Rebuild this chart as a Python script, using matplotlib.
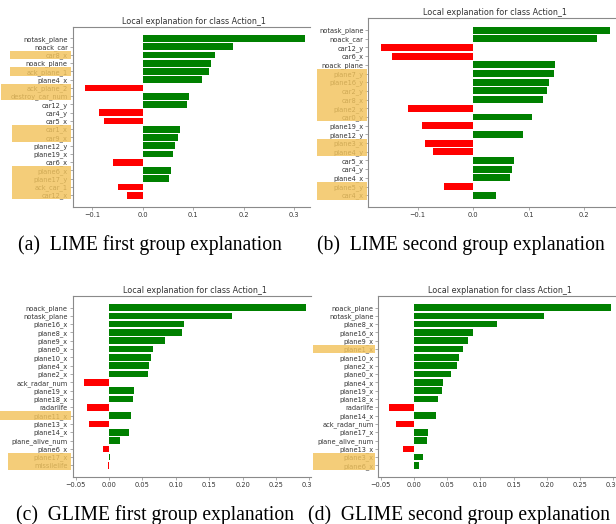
import numpy as np
import matplotlib.pyplot as plt
from matplotlib.patches import Rectangle
from matplotlib.transforms import blended_transform_factory, Bbox, TransformedBbox

W, H = 616, 524

# LIME, first group
a_names = ['notask_plane', 'noack_car', 'car8_x', 'noack_plane', 'ack_plane_1',
           'plane4_x', 'ack_plane_2', 'destroy_car_num', 'car12_y', 'car4_y',
           'car5_x', 'car1_x', 'car9_x', 'plane12_y', 'plane19_x',
           'car6_x', 'plane6_x', 'plane17_y', 'ack_car_1', 'car12_x']
a_vals = [0.322, 0.179, 0.144, 0.135, 0.131, 0.117, -0.113, 0.092, 0.0885, -0.086,
          -0.0755, 0.0747, 0.070, 0.0648, 0.061, -0.059, 0.056, 0.052, -0.048, -0.030]
a_marked = [3, 5, 7, 8, 12, 13, 17, 18, 19, 20]

# LIME, second group
b_names = ['notask_plane', 'noack_car', 'car12_y', 'car6_x', 'noack_plane',
           'plane7_y', 'plane16_y', 'car2_y', 'car8_x', 'plane2_x',
           'car0_y', 'plane19_x', 'plane12_y', 'plane3_x', 'plane4_y',
           'car5_x', 'car4_y', 'plane4_x', 'plane5_y', 'car4_x']
b_vals = [0.246, 0.222, -0.166, -0.146, 0.147, 0.146, 0.137, 0.133, 0.126, -0.118,
          0.106, -0.092, 0.090, -0.0876, -0.073, 0.0728, 0.070, 0.067, -0.053, 0.041]
b_marked = [6, 7, 8, 9, 10, 11, 14, 15, 19, 20]

# GLIME, first group
c_names = ['noack_plane', 'notask_plane', 'plane16_x', 'plane8_x', 'plane9_x',
           'plane0_x', 'plane10_x', 'plane4_x', 'plane2_x', 'ack_radar_num',
           'plane19_x', 'plane18_x', 'radarlife', 'plane11_x', 'plane13_x',
           'plane14_x', 'plane_alive_num', 'plane6_x', 'plane17_x', 'missilelife']
c_vals = [0.2945, 0.1846, 0.1123, 0.1097, 0.0838, 0.0663, 0.0629, 0.0599, 0.0588, -0.037,
          0.0379, 0.0364, -0.0325, 0.0329, -0.0295, 0.0304, 0.0165, -0.0094, 0.0015, -0.0015]
c_marked = [14, 19, 20]

# GLIME, second group
d_names = ['noack_plane', 'notask_plane', 'plane8_x', 'plane16_x', 'plane9_x',
           'plane1_x', 'plane10_x', 'plane2_x', 'plane0_x', 'plane4_x',
           'plane19_x', 'plane18_x', 'radarlife', 'plane14_x', 'ack_radar_num',
           'plane17_x', 'plane_alive_num', 'plane13_x', 'plane3_x', 'plane6_x']
d_vals = [0.296, 0.196, 0.1255, 0.089, 0.082, 0.074, 0.068, 0.065, 0.056, 0.044,
          0.0426, 0.0366, -0.037, 0.0327, -0.027, 0.0215, 0.019, -0.017, 0.013, 0.008]
d_marked = [6, 19, 20]

captions = ['(a)  LIME first group explanation', '(b)  LIME second group explanation',
            '(c)  GLIME first group explanation', '(d)  GLIME second group explanation']

TXT = '#333333'
MARK = '#f2c35c'

fig = plt.figure(figsize=(W / 100, H / 100), dpi=100)


def panel(rect, xlim, names, vals, marked, mark_x0, mark_x1, title_x):
    l, t, r, b = rect
    ax = fig.add_axes([l / W, 1 - b / H, (r - l) / W, (b - t) / H])
    pos = np.arange(len(vals))
    colors = ['green' if v > 0 else 'red' for v in vals]
    ax.barh(pos, vals, height=0.8, color=colors)
    ax.set_yticks(pos, names)
    ax.invert_yaxis()
    ax.set_xlim(*xlim)
    ax.spines['right'].set_visible(False)
    for s in ['left', 'top', 'bottom']:
        ax.spines[s].set_color('#8a8a8a')
        ax.spines[s].set_linewidth(0.8)
    ax.tick_params(length=2, width=0.5, labelsize=4.8, pad=1.5,
                   colors='#8a8a8a', labelcolor=TXT)
    ax.set_title('Local explanation for class Action_1', x=(title_x - l) / (r - l),
                 fontsize=5.8, pad=2.5, color=TXT)

    # shade the selected feature names
    trans = blended_transform_factory(fig.transFigure, ax.transData)
    for row in marked:
        x0 = mark_x0[row] if isinstance(mark_x0, dict) else mark_x0
        ax.add_patch(Rectangle((x0 / W, row - 1.5), (mark_x1 - x0) / W, 1.0,
                               transform=trans, clip_on=False, facecolor=MARK,
                               edgecolor='none', alpha=0.82, zorder=5))
    return ax


ax_a = panel((72.7, 27, 310, 206.7), (-0.138, 0.331), a_names, a_vals, a_marked,
             {3: 10, 5: 10, 7: 1, 8: 1, 12: 12, 13: 12, 17: 12, 18: 12, 19: 12, 20: 12},
             71, 194)
ax_b = panel((368.3, 18, 616, 207.3), (-0.189, 0.257), b_names, b_vals, b_marked,
             317, 367, 495)
ax_c = panel((72.7, 296, 311, 477), (-0.0544, 0.3024), c_names, c_vals, c_marked,
             {14: 0, 19: 8, 20: 8}, 71, 195)
ax_d = panel((378.3, 296, 616, 477), (-0.0538, 0.3042), d_names, d_vals, d_marked,
             313, 375, 500)

ax_a.set_xticks([-0.1, 0.0, 0.1, 0.2, 0.3])
ax_b.set_xticks([-0.1, 0.0, 0.1, 0.2])
for ax in [ax_c, ax_d]:
    ax.set_xticks([-0.05, 0.0, 0.05, 0.1, 0.15, 0.2, 0.25, 0.3])

# the last tick label of the lower-left panel is cut at the panel edge
cut = TransformedBbox(Bbox.from_extents(0, 0, 311 / W, 1), fig.transFigure)
for lab in ax_c.get_xticklabels():
    lab.set_clip_box(cut)
    lab.set_clip_on(True)

for (cx, cy), text in zip([(150, 245), (461, 245), (155, 515), (459, 515)], captions):
    fig.text(cx / W, 1 - cy / H, text, ha='center', va='center',
             family='Liberation Serif', fontsize=14.1, color='black')

fig.savefig('out.png', dpi=100)
